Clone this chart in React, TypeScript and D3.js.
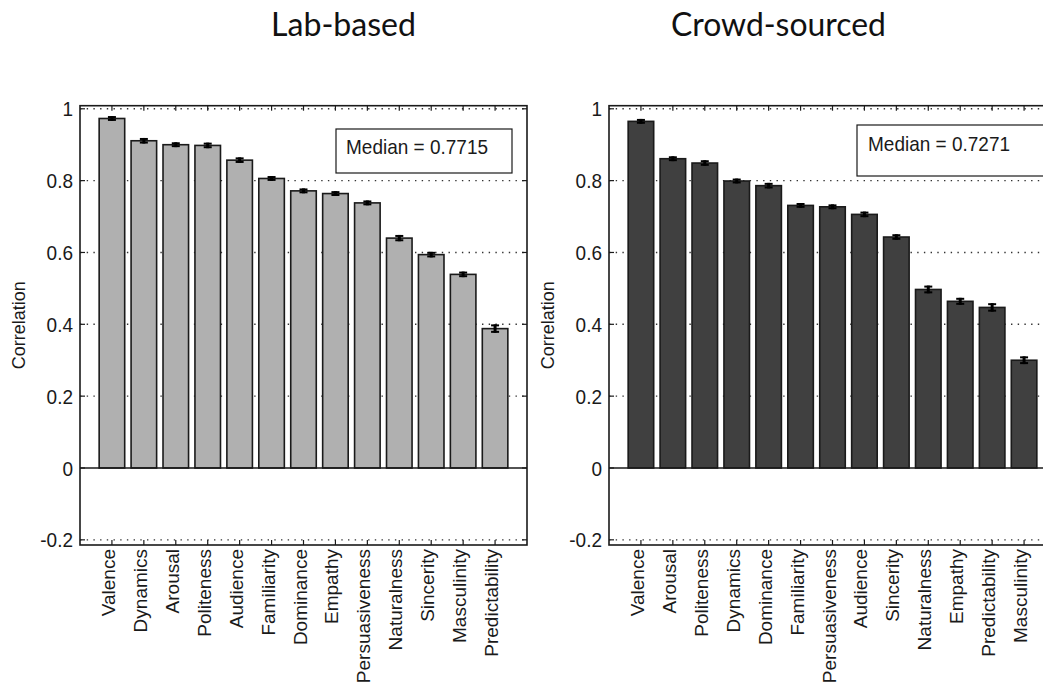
import React from 'react';
import * as d3 from 'd3';

const labLabels = ['Valence', 'Dynamics', 'Arousal', 'Politeness', 'Audience', 'Familiarity', 'Dominance', 'Empathy', 'Persuasiveness', 'Naturalness', 'Sincerity', 'Masculinity', 'Predictability'];
const labValues = [0.973, 0.911, 0.9, 0.898, 0.857, 0.806, 0.7715, 0.764, 0.738, 0.64, 0.594, 0.539, 0.388];
const labErrors = [0.004, 0.005, 0.004, 0.005, 0.005, 0.004, 0.004, 0.004, 0.004, 0.006, 0.005, 0.005, 0.009];

const crowdLabels = ['Valence', 'Arousal', 'Politeness', 'Dynamics', 'Dominance', 'Familiarity', 'Persuasiveness', 'Audience', 'Sincerity', 'Naturalness', 'Empathy', 'Predictability', 'Masculinity'];
const crowdValues = [0.965, 0.861, 0.849, 0.799, 0.786, 0.731, 0.7271, 0.706, 0.643, 0.497, 0.464, 0.447, 0.3];
const crowdErrors = [0.004, 0.004, 0.005, 0.004, 0.005, 0.004, 0.004, 0.005, 0.005, 0.008, 0.007, 0.009, 0.008];

const yTicks = [-0.2, 0, 0.2, 0.4, 0.6, 0.8, 1];
const yTickLabels = ['-0.2', '0', '0.2', '0.4', '0.6', '0.8', '1'];

const FONT = '"Liberation Sans", Arial, Helvetica, sans-serif';

type PanelProps = {
  left: number;
  labels: string[];
  values: number[];
  errors: number[];
  fill: string;
  median: string;
  box: { x: number; y: number; w: number; h: number; tx: number; ty: number };
};

const Panel = ({ left, labels, values, errors, fill, median, box }: PanelProps) => {
  const top = 105.7;
  const bottom = 545;
  const width = 447;

  // xlim [0, n+1] like matlab bar(), ylim a bit past [-0.2, 1]
  const x = d3.scaleLinear().domain([0, labels.length + 1]).range([left, left + width]);
  const y = d3.scaleLinear().domain([-0.2144, 1.0086]).range([bottom, top]);
  const bw = x(0.8) - x(0);

  return (
    <g>
      {/* dotted grid */}
      {yTicks.filter((t) => t !== 0).map((t) => (
        <line key={'g' + t} x1={left} x2={left + width} y1={y(t)} y2={y(t)}
          stroke="#333" strokeWidth={1.4} strokeDasharray="1.4 5.3" />
      ))}

      {values.map((v, i) => (
        <rect key={'b' + i} x={x(i + 1) - bw / 2} y={y(v)} width={bw} height={y(0) - y(v)}
          fill={fill} stroke="#1a1a1a" strokeWidth={1.6} />
      ))}

      {values.map((v, i) => {
        const cx = x(i + 1);
        const y1 = y(v + errors[i]);
        const y2 = y(v - errors[i]);
        return (
          <g key={'e' + i} stroke="#000" strokeWidth={2}>
            <line x1={cx} x2={cx} y1={y1 - 1} y2={y2 + 1} strokeWidth={3} />
            <line x1={cx - 4} x2={cx + 4} y1={y1} y2={y1} />
            <line x1={cx - 4} x2={cx + 4} y1={y2} y2={y2} />
          </g>
        );
      })}

      <line x1={left} x2={left + width} y1={y(0)} y2={y(0)} stroke="#1a1a1a" strokeWidth={1.6} />

      {yTicks.map((t) => (
        <g key={'t' + t} stroke="#1a1a1a" strokeWidth={1.2}>
          <line x1={left} x2={left + 5} y1={y(t)} y2={y(t)} />
          <line x1={left + width - 5} x2={left + width} y1={y(t)} y2={y(t)} />
        </g>
      ))}
      {labels.map((_, i) => (
        <g key={'xt' + i} stroke="#1a1a1a" strokeWidth={1.2}>
          <line x1={x(i + 1)} x2={x(i + 1)} y1={bottom} y2={bottom - 5} />
          <line x1={x(i + 1)} x2={x(i + 1)} y1={top} y2={top + 5} />
        </g>
      ))}

      <rect x={left} y={top} width={width} height={bottom - top} fill="none" stroke="#1a1a1a" strokeWidth={1.6} />

      {yTicks.map((t, i) => (
        <text key={'yl' + t} transform={`translate(${left - 7},${y(t)}) scale(1,1.1)`} dy="0.36em" textAnchor="end"
          fontFamily={FONT} fontSize={19} fill="#1a1a1a">{yTickLabels[i]}</text>
      ))}

      {labels.map((l, i) => (
        <text key={'xl' + i} transform={`translate(${x(i + 1) + 3},${bottom + 4}) rotate(-90)`}
          textAnchor="end" fontFamily={FONT} fontSize={19} fill="#1a1a1a">{l}</text>
      ))}

      <text transform={`translate(${left - 55},${(top + bottom) / 2}) rotate(-90)`} textAnchor="middle"
        fontFamily={FONT} fontSize={18} fill="#1a1a1a">Correlation</text>

      {/* median annotation */}
      <rect x={box.x} y={box.y} width={box.w} height={box.h} fill="#fff" stroke="#1a1a1a" strokeWidth={1.2} />
      <text transform={`translate(${box.tx},${box.ty}) scale(1,1.1)`} fontFamily={FONT} fontSize={19} fill="#1a1a1a">{median}</text>
    </g>
  );
};

const App = () => {
  return (
    <div style={{ position: 'absolute', left: 0, top: 0 }}>
      <svg width={1043} height={685} style={{ display: 'block', background: '#fff' }}>
        <text x={271} y={36} textLength={145} lengthAdjust="spacingAndGlyphs"
          fontFamily="Lato, 'Open Sans', sans-serif" fontSize={32} fill="#111">Lab-based</text>
        <text x={671} y={36} textLength={215} lengthAdjust="spacingAndGlyphs"
          fontFamily="Lato, 'Open Sans', sans-serif" fontSize={32} fill="#111">Crowd-sourced</text>

        <Panel left={80} labels={labLabels} values={labValues} errors={labErrors} fill="#b0b0b0"
          median="Median = 0.7715" box={{ x: 336, y: 129, w: 176, h: 44, tx: 346, ty: 154 }} />
        <Panel left={609} labels={crowdLabels} values={crowdValues} errors={crowdErrors} fill="#404040"
          median="Median = 0.7271" box={{ x: 857, y: 125, w: 190, h: 51, tx: 868, ty: 151 }} />
      </svg>
    </div>
  );
};

export default App;
